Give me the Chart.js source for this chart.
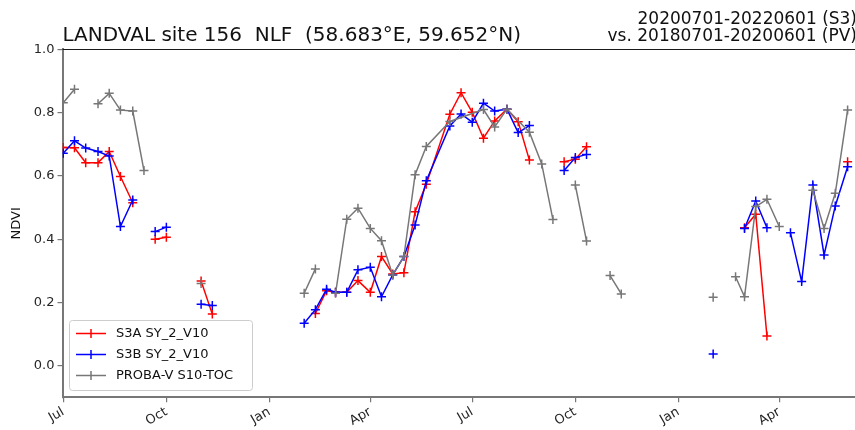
<!DOCTYPE html>
<html>
<head>
<meta charset="utf-8">
<script src="https://cdn.jsdelivr.net/npm/chart.js@4/dist/chart.umd.min.js"></script>
<style>
  html, body { margin: 0; padding: 0; background: #ffffff; }
  canvas { display: block; }
</style>
</head>
<body>
<canvas id="ndvi" width="855" height="430"></canvas>
<script>
// Dekadal NDVI, LANDVAL site 156 (NLF). A null value breaks the line.
const s3aDates = ['2020-07-01','2020-07-11','2020-07-21','2020-08-01','2020-08-11','2020-08-21','2020-09-01','2020-09-11',
  '2020-09-21','2020-10-01','2020-10-11','2020-11-01','2020-11-11','2020-11-21',
  '2021-02-11','2021-02-21','2021-03-01','2021-03-11','2021-03-21','2021-04-01','2021-04-11','2021-04-21','2021-05-01',
  '2021-05-11','2021-05-21','2021-06-11','2021-06-21','2021-07-01','2021-07-11','2021-07-21','2021-08-01','2021-08-11',
  '2021-08-21','2021-09-01','2021-09-21','2021-10-01','2021-10-11','2021-10-21',
  '2022-03-01','2022-03-11','2022-03-21','2022-04-01','2022-06-01'];
const s3aValues = [0.690,0.689,0.642,0.642,0.677,0.598,0.515,null,
  0.400,0.406,null,0.268,0.163,null,
  0.165,0.237,0.232,0.232,0.269,0.232,0.345,0.290,0.294,
  0.487,0.574,0.795,0.863,0.801,0.719,0.774,0.811,0.771,
  0.650,null,0.645,0.653,0.692,null,
  0.436,0.479,0.094,null,0.645];

const s3bDates = ['2020-07-01','2020-07-11','2020-07-21','2020-08-01','2020-08-11','2020-08-21','2020-09-01','2020-09-11',
  '2020-09-21','2020-10-01','2020-10-11','2020-11-01','2020-11-11','2020-11-21',
  '2021-02-01','2021-02-11','2021-02-21','2021-03-01','2021-03-11','2021-03-21','2021-04-01','2021-04-11','2021-04-21',
  '2021-05-01','2021-05-11','2021-05-21','2021-06-11','2021-06-21','2021-07-01','2021-07-11','2021-07-21','2021-08-01',
  '2021-08-11','2021-08-21','2021-09-01','2021-09-21','2021-10-01','2021-10-11','2021-10-21',
  '2022-02-01','2022-02-11','2022-03-01','2022-03-11','2022-03-21','2022-04-01',
  '2022-04-11','2022-04-21','2022-05-01','2022-05-11','2022-05-21','2022-06-01'];
const s3bValues = [0.672,0.711,0.688,0.677,0.663,0.440,0.524,null,
  0.424,0.438,null,0.194,0.190,null,
  0.134,0.177,0.242,0.232,0.232,0.303,0.311,0.218,0.287,
  0.345,0.445,0.585,0.758,0.796,0.770,0.830,0.805,0.811,
  0.737,0.759,null,0.617,0.658,0.668,null,
  0.037,null,0.434,0.521,0.436,null,
  0.420,0.266,0.571,0.350,0.505,0.629];

const pvDates = ['2020-07-01','2020-07-11','2020-07-21','2020-08-01','2020-08-11','2020-08-21','2020-09-01','2020-09-11',
  '2020-09-21','2020-11-01','2020-11-11',
  '2021-02-01','2021-02-11','2021-02-21','2021-03-01','2021-03-11','2021-03-21','2021-04-01','2021-04-11','2021-04-21',
  '2021-05-01','2021-05-11','2021-05-21','2021-06-11','2021-07-11','2021-07-21','2021-08-01','2021-08-21','2021-09-01',
  '2021-09-11','2021-09-21','2021-10-01','2021-10-11','2021-10-21','2021-11-01','2021-11-11','2021-11-21',
  '2022-02-01','2022-02-11','2022-02-21','2022-03-01','2022-03-11','2022-03-21','2022-04-01','2022-04-11',
  '2022-05-01','2022-05-11','2022-05-21','2022-06-01'];
const pvValues = [0.831,0.874,null,0.828,0.861,0.808,0.805,0.617,
  null,0.260,null,
  0.229,0.306,null,0.229,0.463,0.498,0.434,0.395,0.287,
  0.345,0.604,0.693,0.772,0.810,0.755,0.811,0.738,0.638,
  0.462,null,0.571,0.394,null,0.285,0.227,null,
  0.216,null,0.281,0.218,0.503,0.526,0.440,null,
  0.555,0.434,0.545,0.808];

const seriesNames = ['S3A SY_2_V10', 'S3B SY_2_V10', 'PROBA-V S10-TOC'];

const tickDates  = ['2020-07-01','2020-10-01','2021-01-01','2021-04-01','2021-07-01','2021-10-01','2022-01-01','2022-04-01'];
const tickLabels = ['Jul','Oct','Jan','Apr','Jul','Oct','Jan','Apr'];
const yTicks = [0.0, 0.2, 0.4, 0.6, 0.8, 1.0];

// days counted from 1 July 2020
const ORIGIN = Date.UTC(2020, 6, 1);
function dayIndex(s) {
  const [y, m, d] = s.split('-').map(Number);
  return (Date.UTC(y, m - 1, d) - ORIGIN) / 86400000;
}
function points(dates, values) {
  return dates.map((d, i) => ({ x: dayIndex(d), y: values[i] }));
}

const FONT = '"DejaVu Sans", sans-serif';

function lineSet(label, dates, values, color, order) {
  return {
    label, data: points(dates, values), order,
    borderColor: color, backgroundColor: color,
    borderWidth: 1.5, pointStyle: 'cross', pointRadius: 4.5,
    pointBorderWidth: 1.5, pointHoverRadius: 4.5,
    spanGaps: false, tension: 0, fill: false
  };
}

// titles, top frame line and in-plot legend
const decorations = {
  id: 'decorations',
  afterDraw(chart) {
    const ctx = chart.ctx, a = chart.chartArea;
    ctx.save();
    ctx.strokeStyle = '#1a1a1a';
    ctx.lineWidth = 1;
    ctx.beginPath();
    ctx.moveTo(a.left, Math.round(a.top) + 0.5);
    ctx.lineTo(a.right + 2, Math.round(a.top) + 0.5);
    ctx.stroke();

    ctx.fillStyle = '#111';
    ctx.textBaseline = 'alphabetic';
    ctx.font = '20px ' + FONT;
    ctx.textAlign = 'left';
    ctx.fillText('LANDVAL site 156  NLF  (58.683°E, 59.652°N)', a.left, 40.7);
    ctx.font = '17px ' + FONT;
    ctx.textAlign = 'right';
    ctx.fillText('20200701-20220601 (S3)', 857, 24);
    ctx.fillText('vs. 20180701-20200601 (PV)', 857, 40.7);

    // legend box
    const bx = 69.5, by = 320.5, bw = 183, bh = 70, r = 3;
    ctx.beginPath();
    ctx.moveTo(bx + r, by);
    ctx.arcTo(bx + bw, by, bx + bw, by + bh, r);
    ctx.arcTo(bx + bw, by + bh, bx, by + bh, r);
    ctx.arcTo(bx, by + bh, bx, by, r);
    ctx.arcTo(bx, by, bx + bw, by, r);
    ctx.closePath();
    ctx.fillStyle = 'rgba(255,255,255,0.8)';
    ctx.fill();
    ctx.strokeStyle = '#cccccc';
    ctx.lineWidth = 1;
    ctx.stroke();

    ctx.font = '13px ' + FONT;
    ctx.textAlign = 'left';
    ctx.textBaseline = 'middle';
    chart.data.datasets.forEach((ds, i) => {
      const y = 333.5 + i * 21;
      ctx.strokeStyle = ds.borderColor;
      ctx.lineWidth = 1.5;
      ctx.beginPath();
      ctx.moveTo(76, y); ctx.lineTo(106, y);
      ctx.moveTo(91, y - 4.5); ctx.lineTo(91, y + 4.5);
      ctx.stroke();
      ctx.fillStyle = '#111';
      ctx.fillText(ds.label, 116, y + 0.5);
    });
    ctx.restore();
  }
};

new Chart(document.getElementById('ndvi'), {
  type: 'line',
  data: {
    datasets: [
      lineSet(seriesNames[0], s3aDates, s3aValues, '#ff0000', 3),
      lineSet(seriesNames[1], s3bDates, s3bValues, '#0000ff', 2),
      lineSet(seriesNames[2], pvDates, pvValues, '#777777', 1)
    ]
  },
  options: {
    responsive: false,
    animation: false,
    events: [],
    layout: { autoPadding: false, padding: { top: 49.4, left: 0, right: 0, bottom: 0 } },
    plugins: { legend: { display: false }, title: { display: false }, tooltip: { enabled: false } },
    scales: {
      x: {
        type: 'linear',
        min: -0.7, max: 706.6,
        afterFit(scale) { scale.height = 32.7; scale.paddingLeft = 0; scale.paddingRight = 0; },
        afterBuildTicks(scale) { scale.ticks = tickDates.map(d => ({ value: dayIndex(d) })); },
        ticks: {
          autoSkip: false, minRotation: 30, maxRotation: 30, padding: 2,
          color: '#262626', font: { family: FONT, size: 13 },
          callback: (v, i) => tickLabels[i]
        },
        grid: { drawOnChartArea: false, drawTicks: true, tickLength: 5, color: '#777777', lineWidth: 1.2 },
        border: { display: true, color: '#777777', width: 2 }
      },
      y: {
        min: -0.1, max: 1.0,
        afterFit(scale) { scale.width = 62.5; scale.paddingTop = 0; scale.paddingBottom = 0; },
        afterBuildTicks(scale) { scale.ticks = yTicks.map(v => ({ value: v })); },
        ticks: {
          padding: 3, color: '#262626', font: { family: FONT, size: 13 },
          callback: v => v.toFixed(1)
        },
        title: { display: true, text: 'NDVI', color: '#111', font: { family: FONT, size: 13 }, padding: { top: 9, bottom: 0 } },
        grid: { drawOnChartArea: false, drawTicks: true, tickLength: 5, color: '#777777', lineWidth: 1.2 },
        border: { display: true, color: '#777777', width: 2 }
      }
    }
  },
  plugins: [decorations]
});
</script>
</body>
</html>
